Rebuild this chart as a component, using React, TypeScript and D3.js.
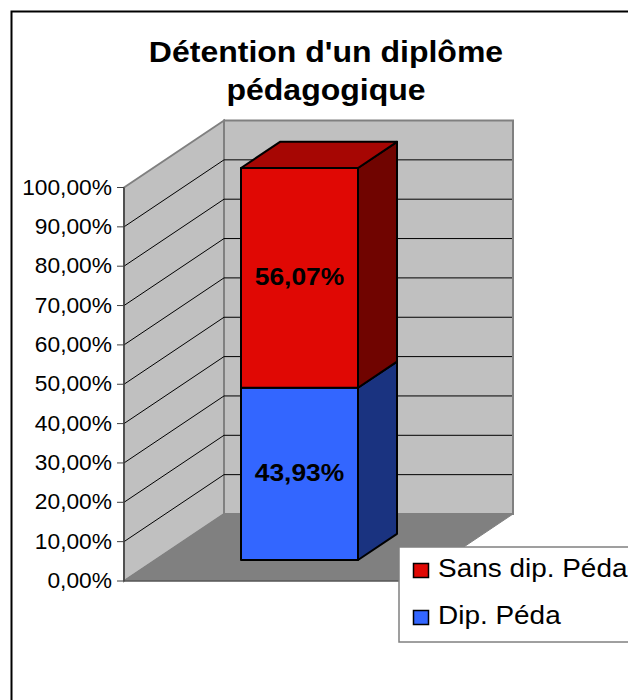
import * as React from 'react'
import * as d3 from 'd3'

const titleLines = ["Détention d'un diplôme", 'pédagogique'];
const seriesNames = ['Dip. Péda', 'Sans dip. Péda'];
const seriesValues = [43.93, 56.07];
const seriesLabels = ['43,93%', '56,07%'];
const tickValues = [0, 10, 20, 30, 40, 50, 60, 70, 80, 90, 100];

const fills = ['#3366ff', '#e00804'];
const tops = ['#22409c', '#a60603'];
const sides = ['#1a3380', '#700400'];

const font = '"Liberation Sans", Arial, sans-serif';

// the reference text is wider than Liberation at the same height
const Stretched = ({ x, y, sx, children, ...rest }: any) => (
    <text transform={`translate(${x},${y}) scale(${sx},1)`} fill="#000" {...rest}>{children}</text>
);

const App = () => {
    const width = 628;
    const height = 700;

    // front plane of the 3D box
    const y = d3.scaleLinear().domain([0, 100]).range([581, 187.5]);
    const wallX = 124;
    const floorW = 289;
    // depth 0..1 -> screen offset
    const depthX = d3.scaleLinear().domain([0, 1]).range([0, 100]);
    const depthY = d3.scaleLinear().domain([0, 1]).range([0, -67]);
    const backX = wallX + depthX(1);
    const backDy = depthY(1);

    const row = [{ a: seriesValues[0], b: seriesValues[1] }];
    const stacked = d3.stack().keys(['a', 'b'])(row as any);

    const barX = 241;
    const barW = 117;
    const sideDx = depthX(0.39);
    const sideDy = depthY(0.39);

    const poly = (pts: number[][]) => d3.line()(pts as any) + 'Z';

    const yBar = d3.scaleLinear().domain([0, d3.sum(seriesValues)]).range([560, 168]);

    return (
        <svg width={width} height={height} style={{ position: 'absolute', left: 0, top: 0, background: '#fff' }} fontFamily={font}>
            <rect x={11.5} y={11.5} width={width + 20} height={height + 20} fill="#fff" stroke="#000" strokeWidth={2} />

            {titleLines.map((t, i) => (
                <Stretched key={t} x={326} y={62 + i * 37.5} sx={1.104} textAnchor="middle" fontSize={29} fontWeight="bold">{t}</Stretched>
            ))}

            {/* walls and floor */}
            <path d={poly([[backX, y(100) + backDy], [backX + floorW, y(100) + backDy], [backX + floorW, y(0) + backDy], [backX, y(0) + backDy]])} fill="#c0c0c0" stroke="#808080" strokeWidth={2} />
            <path d={poly([[wallX, y(100)], [backX, y(100) + backDy], [backX, y(0) + backDy], [wallX, y(0)]])} fill="#c0c0c0" stroke="#808080" strokeWidth={2} />
            <path d={poly([[wallX, y(0)], [backX, y(0) + backDy], [backX + floorW, y(0) + backDy], [wallX + floorW, y(0)]])} fill="#808080" stroke="#808080" strokeWidth={1} />

            {tickValues.filter(v => v > 0 && v < 100).map(v => (
                <path key={v} d={d3.line()([[wallX, y(v)], [backX, y(v) + backDy], [backX + floorW - 1, y(v) + backDy]] as any) as string} fill="none" stroke="#000" strokeWidth={1} />
            ))}

            {/* axis */}
            <line x1={wallX} x2={wallX} y1={y(100)} y2={y(0)} stroke="#404040" strokeWidth={1.5} />
            <line x1={wallX} x2={wallX + floorW} y1={y(0)} y2={y(0)} stroke="#404040" strokeWidth={1} />
            {tickValues.map(v => (
                <g key={v}>
                    <line x1={wallX - 7} x2={wallX} y1={y(v)} y2={y(v)} stroke="#404040" strokeWidth={1} />
                    <Stretched x={112} y={y(v) + 7} sx={1.035} textAnchor="end" fontSize={22}>{v + ',00%'}</Stretched>
                </g>
            ))}

            {/* stacked bar */}
            {stacked.map((s, i) => {
                const v0 = s[0][0];
                const v1 = s[0][1];
                return (
                    <g key={i} stroke="#000" strokeWidth={2} strokeLinejoin="round">
                        <path d={poly([[barX + barW, yBar(v0)], [barX + barW + sideDx, yBar(v0) + sideDy], [barX + barW + sideDx, yBar(v1) + sideDy], [barX + barW, yBar(v1)]])} fill={sides[i]} />
                        {i === stacked.length - 1 && (
                            <path d={poly([[barX, yBar(v1)], [barX + sideDx, yBar(v1) + sideDy], [barX + barW + sideDx, yBar(v1) + sideDy], [barX + barW, yBar(v1)]])} fill={tops[i]} />
                        )}
                        <rect x={barX} y={yBar(v1)} width={barW} height={yBar(v0) - yBar(v1)} fill={fills[i]} />
                    </g>
                );
            })}
            {stacked.map((s, i) => (
                <Stretched key={i} x={barX + barW / 2} y={yBar((s[0][0] + s[0][1]) / 2) + 7.5} sx={1.1} textAnchor="middle" fontSize={24} fontWeight="bold">{seriesLabels[i]}</Stretched>
            ))}

            {/* legend */}
            <rect x={399} y={547} width={260} height={95} fill="#fff" stroke="#808080" strokeWidth={1.5} />
            {[1, 0].map((idx, i) => (
                <g key={idx}>
                    <rect x={413.5} y={563.5 + i * 47} width={15} height={14} fill={fills[idx]} stroke="#000" strokeWidth={1.5} />
                    <Stretched x={438} y={577 + i * 47} sx={1.118} fontSize={25}>{seriesNames[idx]}</Stretched>
                </g>
            ))}
        </svg>
    )
}

export default App;
